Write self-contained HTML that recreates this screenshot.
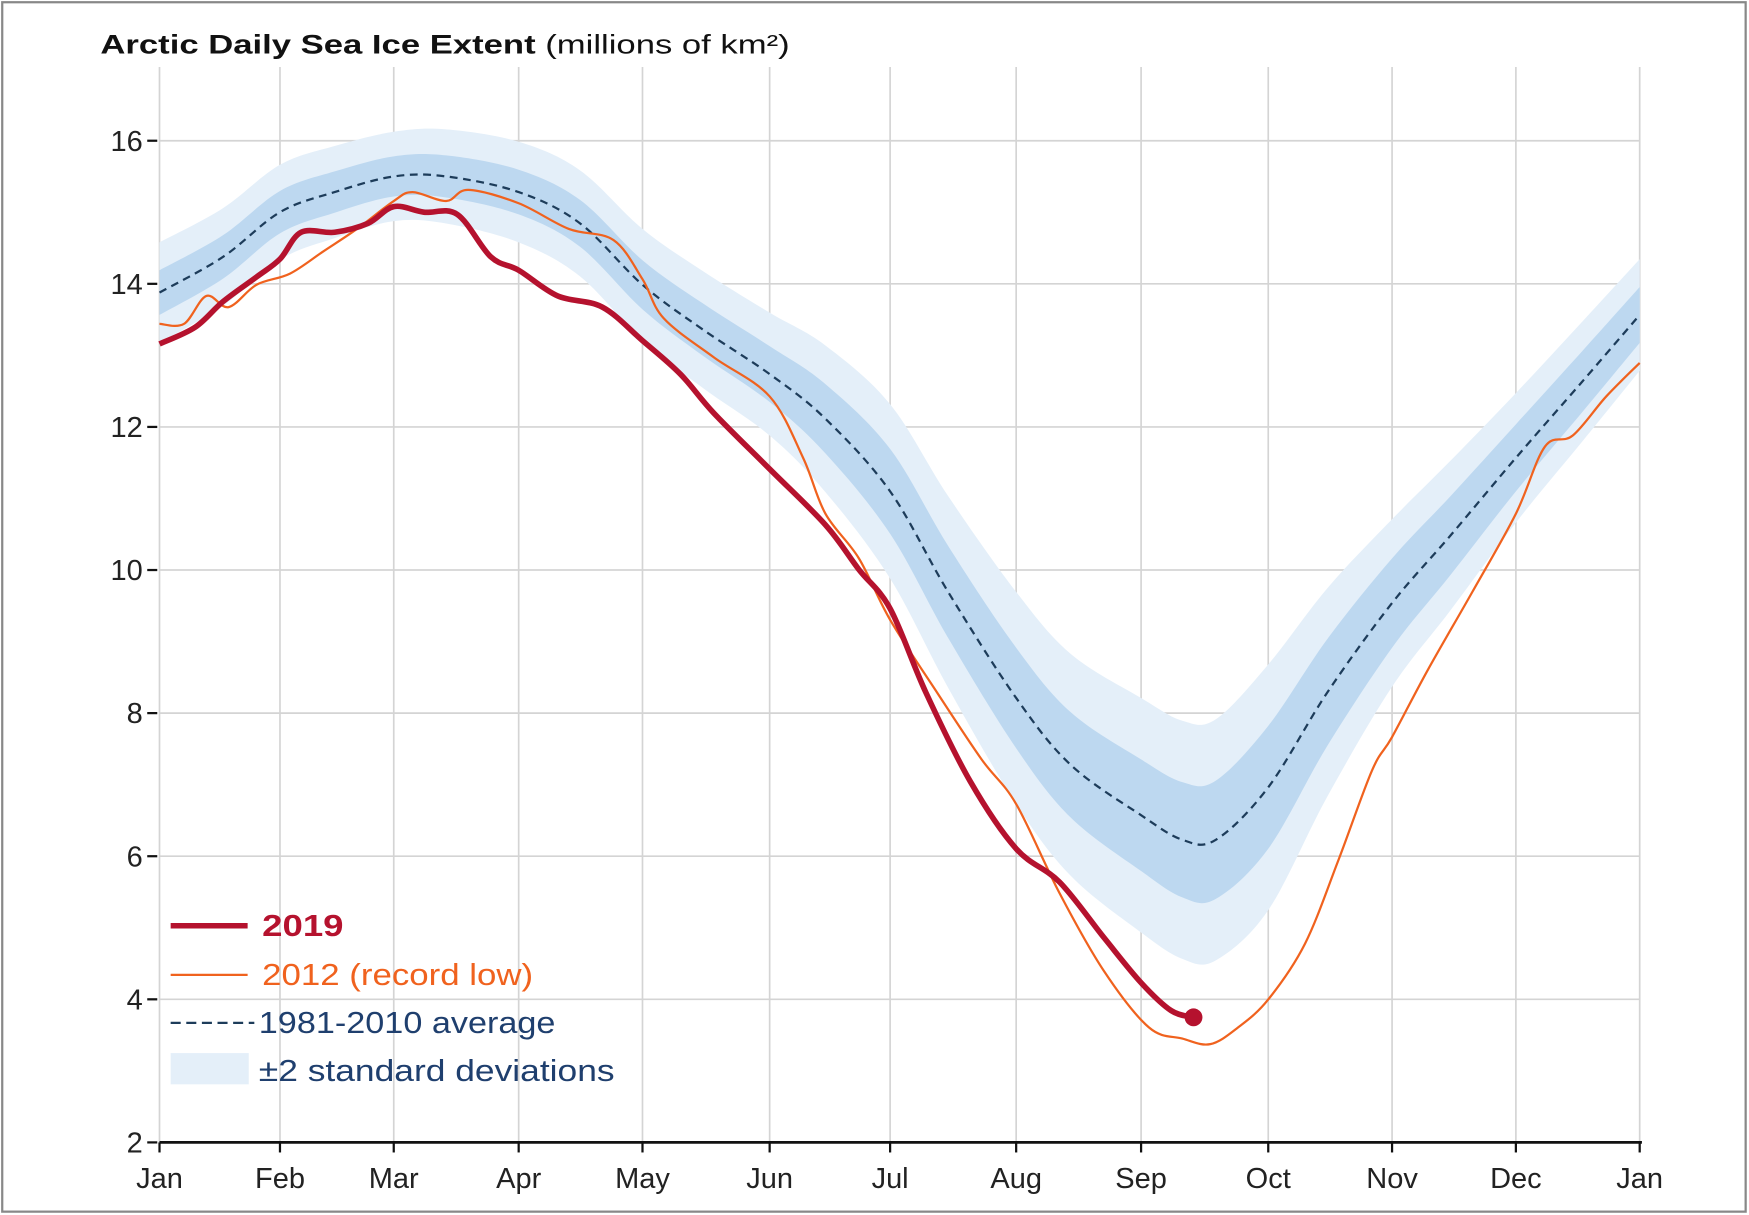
<!DOCTYPE html>
<html><head><meta charset="utf-8"><style>
html,body{margin:0;padding:0;background:#fff}
svg{display:block}
text{font-family:"Liberation Sans",sans-serif}
</style></head><body>
<svg id="s" width="1749" height="1215" viewBox="0 0 1568 1088" preserveAspectRatio="none" xmlns="http://www.w3.org/2000/svg">
<rect x="2" y="2" width="1563" height="1083" fill="#fff" stroke="#888" stroke-width="2"/>
<g id="grid" stroke="#d4d4d4" stroke-width="1.5"></g>
<path id="outer" fill="#e4eff9"/>
<path id="inner" fill="#bdd8f0"/>
<path id="avg" fill="none" stroke="#1d3c5a" stroke-width="2" stroke-dasharray="7,5"/>
<path id="y2012" fill="none" stroke="#f0621e" stroke-width="2"/>
<path id="y2019" fill="none" stroke="#b5122e" stroke-width="5" stroke-linejoin="round"/>
<circle cx="1070" cy="911" r="8" fill="#b5122e"/>
<line x1="143" y1="1023" x2="1472" y2="1023" stroke="#111" stroke-width="2.5"/>
<g id="labels" font-size="26" fill="#222"></g>
<text x="90" y="48" font-size="24" fill="#111" textLength="618" lengthAdjust="spacingAndGlyphs"><tspan font-weight="bold">Arctic Daily Sea Ice Extent</tspan> (millions of km²)</text>
<line x1="153" y1="829" x2="222" y2="829" stroke="#b5122e" stroke-width="5"/>
<text x="235" y="838" font-size="27" font-weight="bold" fill="#b5122e" textLength="73" lengthAdjust="spacingAndGlyphs">2019</text>
<line x1="153" y1="873" x2="222" y2="873" stroke="#f0621e" stroke-width="2"/>
<text x="235" y="882" font-size="27" fill="#f0621e" textLength="243" lengthAdjust="spacingAndGlyphs">2012 (record low)</text>
<line x1="153" y1="916" x2="228" y2="916" stroke="#1d3c5a" stroke-width="2" stroke-dasharray="9,5"/>
<text x="232" y="925" font-size="27" fill="#1f3f6e" textLength="266" lengthAdjust="spacingAndGlyphs">1981-2010 average</text>
<rect x="153" y="943" width="70" height="28" fill="#e4eff9"/>
<text x="232" y="968" font-size="27" fill="#1f3f6e" textLength="319" lengthAdjust="spacingAndGlyphs">±2 standard deviations</text>
</svg>
<script>
function cr(p){let d="M"+p[0][0]+","+p[0][1];for(let i=0;i<p.length-1;i++){const a=p[i-1]||p[i],b=p[i],c=p[i+1],e=p[i+2]||c;
d+=" C"+(b[0]+(c[0]-a[0])/6)+","+(b[1]+(c[1]-a[1])/6)+" "+(c[0]-(e[0]-b[0])/6)+","+(c[1]-(e[1]-b[1])/6)+" "+c[0]+","+c[1];}return d;}
const avg=[[143,262],[200,230],[251,190],[300,172],[353,158],[400,158],[465,172],[520,200],[576,255],[630,295],[690,335],[740,375],[798,440],[850,530],[911,625],[960,685],[1023,730],[1060,752],[1090,752],[1137,705],[1190,620],[1248,540],[1300,480],[1359,410],[1420,340],[1470,282]];
const hw=[[143,20,45],[353,18,40],[576,22,50],[690,25,55],[798,38,78],[911,45,95],[1023,50,105],[1137,55,110],[1248,40,75],[1359,30,58],[1470,25,50]];
function h(x,k){for(let i=0;i<hw.length-1;i++){if(x<=hw[i+1][0]){const t=(x-hw[i][0])/(hw[i+1][0]-hw[i][0]);return hw[i][k]+(hw[i+1][k]-hw[i][k])*t;}}return hw[hw.length-1][k];}
function band(k){const up=avg.map(p=>[p[0],p[1]-h(p[0],k)]),dn=avg.map(p=>[p[0],p[1]+h(p[0],k)]).reverse();
return cr(up)+" L"+cr(dn).slice(1)+" Z";}
document.getElementById("outer").setAttribute("d",band(2));
document.getElementById("inner").setAttribute("d",band(1));
document.getElementById("avg").setAttribute("d",cr(avg));
document.getElementById("y2019").setAttribute("d",cr([[143,308],[175,293],[200,270],[230,248],[251,232],[270,208],[300,208],[330,200],[353,185],[380,190],[410,192],[440,230],[465,242],[500,265],[540,275],[576,305],[610,335],[640,370],[690,420],[740,470],[770,510],[798,545],[830,620],[870,700],[911,760],[950,790],[990,840],[1023,880],[1050,905],[1070,911]]));
document.getElementById("y2012").setAttribute("d",cr([[143,290],[165,290],[185,265],[205,275],[230,255],[260,245],[290,225],[320,205],[353,180],[370,172],[400,180],[420,170],[465,182],[510,205],[550,215],[576,250],[595,285],[640,320],[690,355],[720,410],[740,460],[770,500],[798,555],[840,620],[880,680],[911,720],[950,800],[990,870],[1030,920],[1060,930],[1085,935],[1110,920],[1137,895],[1170,845],[1200,770],[1230,690],[1248,660],[1280,600],[1320,530],[1359,460],[1385,400],[1410,390],[1440,355],[1470,325]]));
const g=document.getElementById("grid"),L=document.getElementById("labels"),NS="http://www.w3.org/2000/svg";
function el(p,t,a,txt){const e=document.createElementNS(NS,t);for(const k in a)e.setAttribute(k,a[k]);if(txt)e.textContent=txt;p.appendChild(e);return e;}
const mx=[143,251,353,465,576,690,798,911,1023,1137,1248,1359,1470],mn=["Jan","Feb","Mar","Apr","May","Jun","Jul","Aug","Sep","Oct","Nov","Dec","Jan"];
mx.forEach((x,i)=>{el(g,"line",{x1:x,y1:60,x2:x,y2:1023});el(L,"line",{x1:x,y1:1023,x2:x,y2:1032,stroke:"#111","stroke-width":2});el(L,"text",{x:x,y:1064,"text-anchor":"middle"},mn[i]);});
for(let v=2;v<=16;v+=2){const y=1023-(v-2)*64.07;if(v>2)el(g,"line",{x1:143,y1:y,x2:1470,y2:y});el(L,"line",{x1:132,y1:y,x2:141,y2:y,stroke:"#111","stroke-width":2});el(L,"text",{x:128,y:y+9,"text-anchor":"end"},String(v));}
</script>
</body></html>
